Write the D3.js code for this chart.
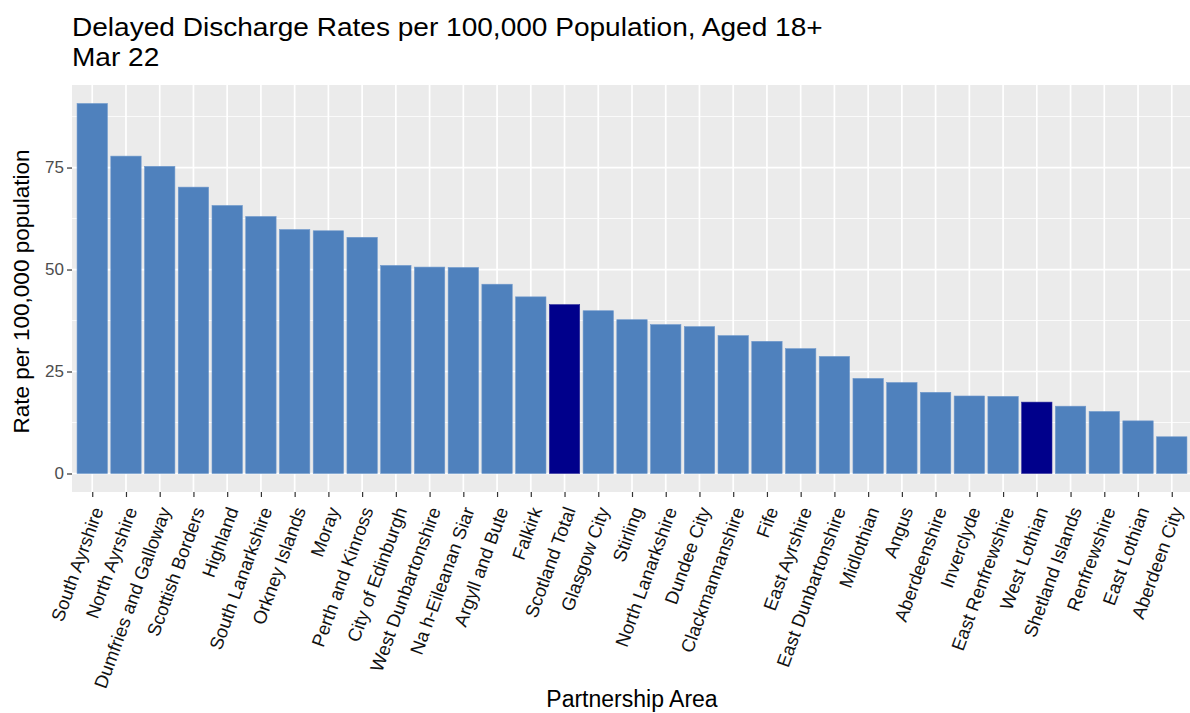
<!DOCTYPE html>
<meta charset="utf-8">
<style>
body { margin: 0; background: #fff; }
text { font-family: "Liberation Sans", Arial, sans-serif; }
.grid line { stroke: #fff; }
</style>
<svg width="1190" height="713"></svg>
<script src="https://d3js.org/d3.v7.min.js"></script>
<script>
// partnership areas, in plotted order
var areas = ["South Ayrshire", "North Ayrshire", "Dumfries and Galloway", "Scottish Borders",
  "Highland", "South Lanarkshire", "Orkney Islands", "Moray", "Perth and Kinross",
  "City of Edinburgh", "West Dunbartonshire", "Na h-Eileanan Siar", "Argyll and Bute",
  "Falkirk", "Scotland Total", "Glasgow City", "Stirling", "North Lanarkshire",
  "Dundee City", "Clackmannanshire", "Fife", "East Ayrshire", "East Dunbartonshire",
  "Midlothian", "Angus", "Aberdeenshire", "Inverclyde", "East Renfrewshire",
  "West Lothian", "Shetland Islands", "Renfrewshire", "East Lothian", "Aberdeen City"];
var rates = [90.7, 77.8, 75.3, 70.2, 65.7, 63.0, 59.8, 59.5, 57.9, 51.0, 50.6, 50.5, 46.4,
  43.3, 41.4, 39.9, 37.7, 36.5, 36.0, 33.8, 32.4, 30.6, 28.7, 23.3, 22.3, 19.9, 19.0,
  18.9, 17.5, 16.5, 15.2, 12.9, 9.0];
var highlighted = ["Scotland Total", "West Lothian"];
var yTicks = [0, 25, 50, 75];
var yMinor = [12.5, 37.5, 62.5, 87.5];

var svg = d3.select("svg");
var panel = {left: 72, right: 1192, top: 85, bottom: 492};

// ggplot style discrete axis: 0.6 step expansion each side
var x = d3.scalePoint()
    .domain(areas)
    .range([panel.left, panel.right])
    .padding(0.6);
var barW = x.step() * 0.9;

var yMax = d3.max(rates);
var y = d3.scaleLinear()
    .domain([-yMax * 0.05, yMax * 1.05])
    .range([panel.bottom, panel.top]);

// panel background
svg.append("rect")
    .attr("x", panel.left).attr("y", panel.top)
    .attr("width", panel.right - panel.left)
    .attr("height", panel.bottom - panel.top)
    .attr("fill", "#ebebeb");

var grid = svg.append("g").attr("class", "grid");
grid.selectAll(".minor").data(yMinor).enter().append("line")
    .attr("x1", panel.left).attr("x2", panel.right)
    .attr("y1", y).attr("y2", y)
    .attr("stroke-width", 0.8);
grid.selectAll(".major").data(yTicks).enter().append("line")
    .attr("x1", panel.left).attr("x2", panel.right)
    .attr("y1", y).attr("y2", y)
    .attr("stroke-width", 1.7);
grid.selectAll(".vx").data(areas).enter().append("line")
    .attr("x1", x).attr("x2", x)
    .attr("y1", panel.top).attr("y2", panel.bottom)
    .attr("stroke-width", 1.7);

// bars
svg.append("g").selectAll("rect")
  .data(areas)
  .enter().append("rect")
    .attr("x", function(d) { return x(d) - barW / 2; })
    .attr("width", barW)
    .attr("y", function(d, i) { return y(rates[i]); })
    .attr("height", function(d, i) { return y(0) - y(rates[i]); })
    .attr("fill", function(d) { return highlighted.indexOf(d) >= 0 ? "#00008b" : "#4f81bd"; })
    .attr("stroke", function(d) { return highlighted.indexOf(d) >= 0 ? "#2a2a9a" : "#7099cc"; })
    .attr("stroke-width", 0.6);

// y axis
var yAxis = svg.append("g")
    .attr("transform", "translate(" + panel.left + ",0)")
    .call(d3.axisLeft(y).tickValues(yTicks).tickSize(5).tickPadding(3));
yAxis.select(".domain").remove();
yAxis.selectAll(".tick line").attr("stroke", "#333").attr("stroke-width", 1.2);
yAxis.selectAll(".tick text")
    .attr("fill", "#4d4d4d")
    .style("font-size", "17px")
    .style("font-family", "'Liberation Sans', Arial, sans-serif");

// x axis
var xAxis = svg.append("g")
    .attr("transform", "translate(0," + panel.bottom + ")")
    .call(d3.axisBottom(x).tickSize(5).tickPadding(0));
xAxis.select(".domain").remove();
xAxis.selectAll(".tick line").attr("stroke", "#333").attr("stroke-width", 1.2);
xAxis.selectAll(".tick text")
    .attr("fill", "#111")
    .style("font-size", "18.5px")
    .style("font-family", "'Liberation Sans', Arial, sans-serif")
    .attr("text-anchor", "end")
    .attr("dy", null)
    .attr("y", null)
    .attr("transform", "translate(11,18) rotate(-70)");

// titles
svg.append("text")
    .attr("transform", "translate(" + panel.left + ",36) scale(1.1,1)")
    .style("font-size", "25.5px")
    .text("Delayed Discharge Rates per 100,000 Population, Aged 18+");
svg.append("text")
    .attr("transform", "translate(" + panel.left + ",65.5) scale(1.1,1)")
    .style("font-size", "25.5px")
    .text("Mar 22");

svg.append("text")
    .attr("transform", "translate(29," + ((panel.top + panel.bottom) / 2 + 3) + ") rotate(-90)")
    .attr("text-anchor", "middle")
    .style("font-size", "22.5px")
    .text("Rate per 100,000 population");

svg.append("text")
    .attr("x", (panel.left + panel.right) / 2).attr("y", 707)
    .attr("text-anchor", "middle")
    .style("font-size", "23px")
    .text("Partnership Area");
</script>
